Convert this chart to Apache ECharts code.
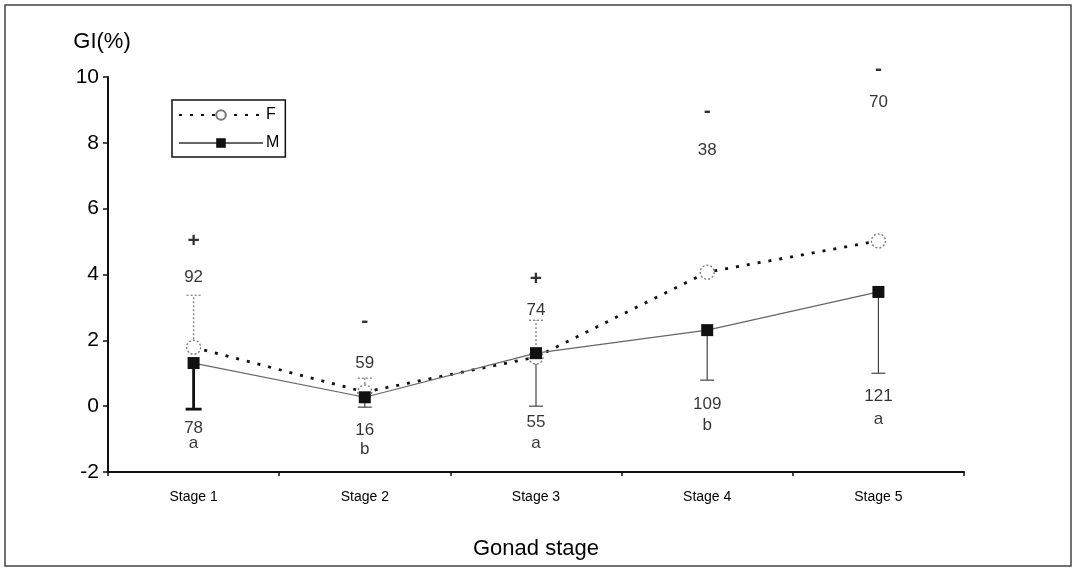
<!DOCTYPE html>
<html>
<head>
<meta charset="utf-8">
<script src="https://cdn.jsdelivr.net/npm/echarts@6/dist/echarts.min.js"></script>
<style>html,body{margin:0;padding:0;background:#fff}#c{width:1077px;height:573px}</style>
</head>
<body>
<div id="c"></div>
<script>
// ---- data ----
const categories = ['Stage 1', 'Stage 2', 'Stage 3', 'Stage 4', 'Stage 5'];
const femaleGI = [1.79, 0.43, 1.49, 4.07, 5.02];
const maleGI = [1.31, 0.27, 1.61, 2.31, 3.47];
const femaleErrTop = [3.37, 0.85, 2.61, null, null];
const maleErrBottom = [-0.09, -0.03, 0.0, 0.79, 1.0];
const femaleN = ['92', '59', '74', '38', '70'];
const femaleNPos = [3.92, 1.31, 2.92, 7.78, 9.24];
const maleN = ['78', '16', '55', '109', '121'];
const maleNPos = [-0.67, -0.73, -0.49, 0.06, 0.30];
const letters = ['a', 'b', 'a', 'b', 'a'];
const lettersPos = [-1.12, -1.31, -1.12, -0.58, -0.40];
const signs = ['+', '-', '+', '-', '-'];
const signsPos = [5.02, 2.58, 3.86, 8.97, 10.24];
const yTicks = { min: -2, max: 10, interval: 2 };

const FONT = 'Liberation Sans, Arial, sans-serif';

function textSeries(name, texts, pos, size, weight) {
  return {
    name: name, type: 'scatter', symbolSize: 1, clip: false,
    itemStyle: { color: 'rgba(0,0,0,0)' }, silent: true, z: 5,
    data: texts.map((t, i) => [i, pos[i]]),
    label: {
      show: true, position: 'inside', color: '#000', fontFamily: FONT,
      fontSize: size, fontWeight: weight || 'normal',
      textBorderWidth: 0, textBorderColor: 'transparent',
      formatter: p => texts[p.dataIndex]
    }
  };
}

function errSeries(name, base, ends, color, width, dashed, capFirstWide) {
  return {
    name: name, type: 'custom', silent: true, z: 1, clip: false,
    data: base.map((v, i) => ends[i] == null ? null : [i, v, ends[i]]).filter(d => d),
    renderItem: function (params, api) {
      const p0 = api.coord([api.value(0), api.value(1)]);
      const p1 = api.coord([api.value(0), api.value(2)]);
      const idx = api.value(0);
      const wide = capFirstWide && idx === 0;
      const w = wide ? 2.8 : width;
      const c = wide ? '#111' : color;
      const half = wide ? 8 : 7;
      const style = { stroke: c, lineWidth: w, lineDash: dashed ? [2, 2] : null };
      return {
        type: 'group', children: [
          { type: 'line', shape: { x1: p0[0], y1: p0[1], x2: p1[0], y2: p1[1] }, style: style },
          { type: 'line', shape: { x1: p1[0] - half, y1: p1[1], x2: p1[0] + half, y2: p1[1] }, style: style }
        ]
      };
    }
  };
}

const chart = echarts.init(document.getElementById('c'), null, { renderer: 'canvas' });
chart.setOption({
  backgroundColor: '#fff',
  animation: false,
  grid: { left: 108, right: 113, top: 77, bottom: 101 },
  legend: {
    left: 172, top: 100, orient: 'vertical',
    data: ['F', 'M'],
    itemWidth: 84, itemHeight: 12, itemGap: 12,
    padding: [7, 6, 6, 6],
    borderColor: '#111', borderWidth: 1.5,
    textStyle: { fontFamily: FONT, fontSize: 16, color: '#000', padding: [0, 0, 0, -2] }
  },
  xAxis: {
    type: 'category', data: categories, boundaryGap: true,
    axisLine: { onZero: false, lineStyle: { color: '#111', width: 2 } },
    axisTick: { show: true, length: 4, lineStyle: { color: '#111', width: 1.5 } },
    axisLabel: { fontFamily: FONT, fontSize: 14, color: '#000', margin: 18 },
    name: 'Gonad stage', nameLocation: 'middle', nameGap: 66,
    nameTextStyle: { fontFamily: FONT, fontSize: 22, color: '#000' },
    splitLine: { show: false }
  },
  yAxis: {
    type: 'value', min: yTicks.min, max: yTicks.max, interval: yTicks.interval,
    axisLine: { show: true, lineStyle: { color: '#111', width: 2 } },
    axisTick: { show: true, length: 5, lineStyle: { color: '#111', width: 1.5 } },
    axisLabel: { fontFamily: FONT, fontSize: 21, color: '#000', margin: 9 },
    splitLine: { show: false },
    name: 'GI(%)', nameLocation: 'end', nameGap: 24,
    nameTextStyle: { fontFamily: FONT, fontSize: 22, color: '#000', align: 'center', padding: [0, 12, 0, 0] }
  },
  series: [
    errSeries('Ferr', femaleGI, femaleErrTop, '#888', 1.4, true, false),
    errSeries('Merr', maleGI, maleErrBottom, '#444', 1.2, false, true),
    {
      name: 'F', type: 'line', data: femaleGI, z: 3,
      lineStyle: { color: '#111', width: 2.8, type: [3, 8] },
      symbol: 'circle', symbolSize: 14,
      itemStyle: { color: '#fff', borderColor: '#777', borderWidth: 1.3, borderType: [2, 2] }
    },
    {
      name: 'M', type: 'line', data: maleGI, z: 4,
      lineStyle: { color: '#666', width: 1.2 },
      symbol: 'rect', symbolSize: 12,
      itemStyle: { color: '#111' }
    },
    textSeries('fn', femaleN, femaleNPos, 17),
    textSeries('mn', maleN, maleNPos, 17),
    textSeries('let', letters, lettersPos, 17),
    textSeries('sig', signs, signsPos, 21, 'bold')
  ],
  graphic: [
    { type: 'rect', shape: { x: 5, y: 5, width: 1066, height: 561 }, style: { fill: 'none', stroke: '#444', lineWidth: 1.5 }, silent: true }
  ]
});
</script>
</body>
</html>
